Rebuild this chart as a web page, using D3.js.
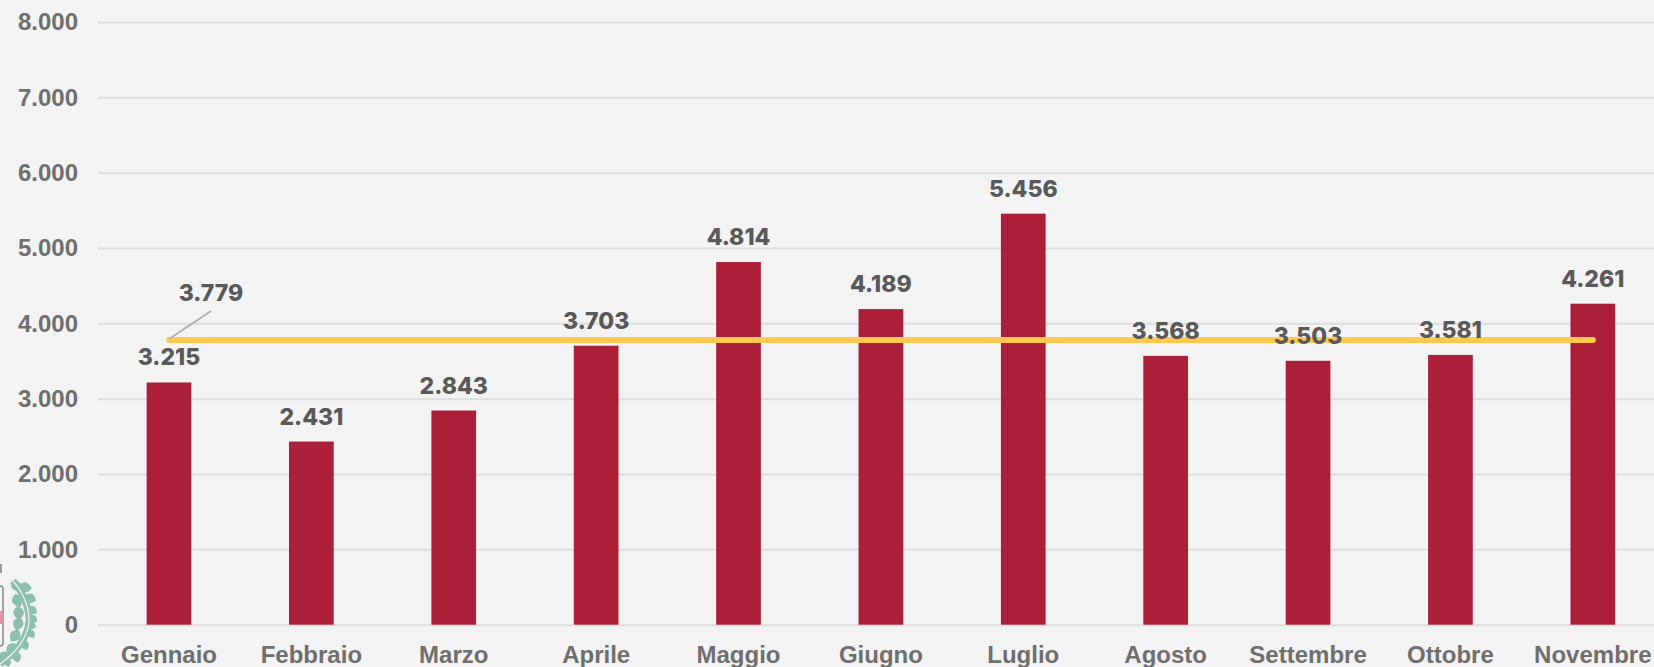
<!DOCTYPE html>
<html>
<head>
<meta charset="utf-8">
<script src="https://cdn.jsdelivr.net/npm/d3@7"></script>
<style>
  html, body { margin: 0; padding: 0; background: #f3f3f3; overflow: hidden; }
</style>
</head>
<body>
<div id="chart"></div>
<script>
var months = ['Gennaio','Febbraio','Marzo','Aprile','Maggio','Giugno','Luglio','Agosto','Settembre','Ottobre','Novembre'];
var values = [3215,2431,2843,3703,4814,4189,5456,3568,3503,3581,4261];
var average = 3779;
var yTicks = [0,1000,2000,3000,4000,5000,6000,7000,8000];

var width = 1654, height = 667;
var fmt = d3.format(',');
function dotted(v) { return fmt(v).replace(/,/g, '.'); }

var svg = d3.select('#chart').append('svg')
  .attr('width', width)
  .attr('height', height)
  .style('display', 'block');

// band runs past the right edge, the original crop cuts it off
var x = d3.scaleBand()
  .domain(months)
  .range([97.8, 1664])
  .paddingInner(0.686)
  .paddingOuter(0.343);

var y = d3.scaleLinear()
  .domain([0, 8000])
  .range([624.7, 22]);

// crest in the bottom left corner, only a piece of it is visible
var crest = svg.append('g');
crest.append('rect')
  .attr('x', -10).attr('y', 586).attr('width', 13).attr('height', 60).attr('rx', 3)
  .attr('fill', '#f5f5f5').attr('stroke', '#8a8a8a').attr('stroke-width', 1.5);
crest.append('rect')
  .attr('x', 0).attr('y', 611).attr('width', 2.5).attr('height', 13)
  .attr('fill', '#e98e9c');
crest.append('rect')
  .attr('x', 0).attr('y', 564).attr('width', 2).attr('height', 9)
  .attr('fill', '#9a9a9a');

var stem = [[13,581],[21,592],[27,606],[29,622],[24,638],[14,652],[0,664]];
// leaf: position on the wreath, direction in degrees, length
var leaves = [
  [13,580,62,13],[18,587,5,14],[15,594,70,14],[24,596,20,13],[18,606,85,14],[28,607,35,11],
  [20,617,105,14],[29,616,35,10],[25,623,20,12],[19,630,125,14],[28,630,50,10],[15,643,120,14],
  [23,640,70,11],[7,652,135,11],[15,651,75,12],[0,659,150,9],[7,658,80,9]
];
crest.selectAll('.leaf')
  .data(leaves)
  .join('path')
  .attr('class', 'leaf')
  .attr('transform', d => `translate(${d[0]},${d[1]}) rotate(${d[2]})`)
  .attr('d', d => `M0,0Q${d[3] * 0.45},${-d[3] * 0.75} ${d[3]},0Q${d[3] * 0.45},${d[3] * 0.75} 0,0Z`)
  .attr('fill', '#8cbfae');
crest.append('path')
  .attr('d', d3.line().curve(d3.curveCatmullRom)(stem))
  .attr('fill', 'none')
  .attr('stroke', '#8cbfae')
  .attr('stroke-width', 7);
crest.append('path')
  .attr('d', d3.line().curve(d3.curveCatmullRom)(stem))
  .attr('fill', 'none')
  .attr('stroke', '#f3f3f3')
  .attr('stroke-width', 1.2);

// grid + y labels
var yAxis = svg.append('g')
  .attr('transform', 'translate(98,0)')
  .call(d3.axisLeft(y).tickValues(yTicks).tickSize(-1560).tickPadding(20).tickFormat(dotted));
yAxis.select('.domain').remove();
yAxis.selectAll('line').attr('stroke', '#dedede').attr('stroke-width', 2);
yAxis.selectAll('text')
  .attr('font-family', '"Liberation Sans", sans-serif')
  .attr('font-weight', 'bold')
  .attr('font-size', 24)
  .attr('fill', '#6f6f6f');

// bars
svg.selectAll('.bar')
  .data(values)
  .join('rect')
  .attr('class', 'bar')
  .attr('x', (d, i) => x(months[i]))
  .attr('y', d => y(d))
  .attr('width', x.bandwidth())
  .attr('height', d => y(0) - y(d))
  .attr('fill', '#ab1f39');

// x labels
var xAxis = svg.append('g')
  .attr('transform', `translate(0,${y(0)})`)
  .call(d3.axisBottom(x).tickSize(0).tickPadding(21));
xAxis.select('.domain').remove();
xAxis.selectAll('text')
  .attr('font-family', '"Liberation Sans", sans-serif')
  .attr('font-weight', 'bold')
  .attr('font-size', 24)
  .attr('fill', '#6f6f6f');

// average line
svg.append('line')
  .attr('x1', x(months[0]) + x.bandwidth() / 2)
  .attr('x2', x(months[10]) + x.bandwidth() / 2)
  .attr('y1', y(average))
  .attr('y2', y(average))
  .attr('stroke', '#ffc84f')
  .attr('stroke-width', 6)
  .attr('stroke-linecap', 'round');

// leader for the average label
svg.append('line')
  .attr('x1', x(months[0]) + x.bandwidth() / 2)
  .attr('y1', y(average) - 1)
  .attr('x2', x(months[0]) + x.bandwidth() / 2 + 42)
  .attr('y2', y(average) - 29)
  .attr('stroke', '#b0b0b0')
  .attr('stroke-width', 2);

var labelFont = 'Inter, "Noto Sans", sans-serif';

// value labels
svg.selectAll('.val')
  .data(values)
  .join('text')
  .attr('class', 'val')
  .attr('x', (d, i) => x(months[i]) + x.bandwidth() / 2)
  .attr('y', d => y(d) - 17)
  .attr('text-anchor', 'middle')
  .attr('font-family', labelFont)
  .attr('font-weight', 800)
  .attr('font-size', 23)
  .attr('fill', '#595959')
  .text(dotted);

svg.append('text')
  .attr('x', x(months[0]) + x.bandwidth() / 2 + 42)
  .attr('y', y(average) - 39)
  .attr('text-anchor', 'middle')
  .attr('font-family', labelFont)
  .attr('font-weight', 800)
  .attr('font-size', 23)
  .attr('fill', '#595959')
  .text(dotted(average));
</script>
</body>
</html>
